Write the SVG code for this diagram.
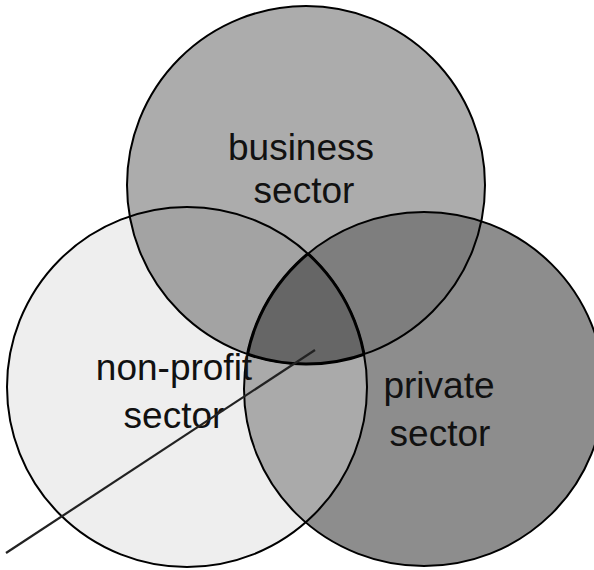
<svg xmlns="http://www.w3.org/2000/svg" width="594" height="570" viewBox="0 0 594 570">
  <style>
    .lbl { font-family: "Liberation Sans", Arial, sans-serif; font-size: 37px; fill: #111; text-anchor: middle; }
    .outline { fill: none; stroke: #000; stroke-width: 2; }
    .inner { fill: none; stroke: #2a2a2a; stroke-width: 1.4; }
  </style>
  <defs>
    <clipPath id="cB"><circle cx="306" cy="185" r="179"/></clipPath>
    <clipPath id="cN"><circle cx="187" cy="387" r="180"/></clipPath>
    <clipPath id="cP"><ellipse cx="424" cy="389" rx="180" ry="177"/></clipPath>
  </defs>
  <rect width="594" height="570" fill="#fff"/>
  <g id="nonprofit">
    <circle cx="187" cy="387" r="180" fill="#eeeeee"/>
  </g>
  <g id="private">
    <ellipse cx="424" cy="389" rx="180" ry="177" fill="#8d8d8d"/>
    <ellipse cx="424" cy="389" rx="180" ry="177" fill="#aaaaaa" clip-path="url(#cN)"/>
  </g>
  <g id="business">
    <circle cx="306" cy="185" r="179" fill="#acacac"/>
    <circle cx="306" cy="185" r="179" fill="#a3a3a3" clip-path="url(#cN)"/>
    <circle cx="306" cy="185" r="179" fill="#7e7e7e" clip-path="url(#cP)"/>
  </g>
  <g id="outlines">
    <circle class="outline" cx="187" cy="387" r="180"/>
    <ellipse class="outline" cx="424" cy="389" rx="180" ry="177"/>
    <circle class="outline" cx="306" cy="185" r="179"/>
  </g>
  <g id="all-three">
    <g clip-path="url(#cN)">
      <g clip-path="url(#cP)">
        <circle cx="306" cy="185" r="179" fill="#666666"/>
      </g>
    </g>
    <g clip-path="url(#cN)">
      <g clip-path="url(#cP)">
        <circle cx="306" cy="185" r="179" fill="none" stroke="#000" stroke-width="3"/>
      </g>
    </g>
    <g clip-path="url(#cB)">
      <g clip-path="url(#cP)">
        <circle cx="187" cy="387" r="180" fill="none" stroke="#000" stroke-width="3"/>
      </g>
      <g clip-path="url(#cN)">
        <ellipse cx="424" cy="389" rx="180" ry="177" fill="none" stroke="#000" stroke-width="3"/>
      </g>
    </g>
  </g>
  <g id="labels">
    <text class="lbl" x="301" y="160">business</text>
    <text class="lbl" x="304" y="203">sector</text>
    <text class="lbl" x="174" y="380">non-profit</text>
    <text class="lbl" x="174" y="428">sector</text>
    <text class="lbl" x="439" y="398">private</text>
    <text class="lbl" x="440" y="446">sector</text>
  </g>
  <g id="connectors">
    <line x1="315" y1="350" x2="6" y2="553" stroke="#222" stroke-width="2.2"/>
  </g>
</svg>
